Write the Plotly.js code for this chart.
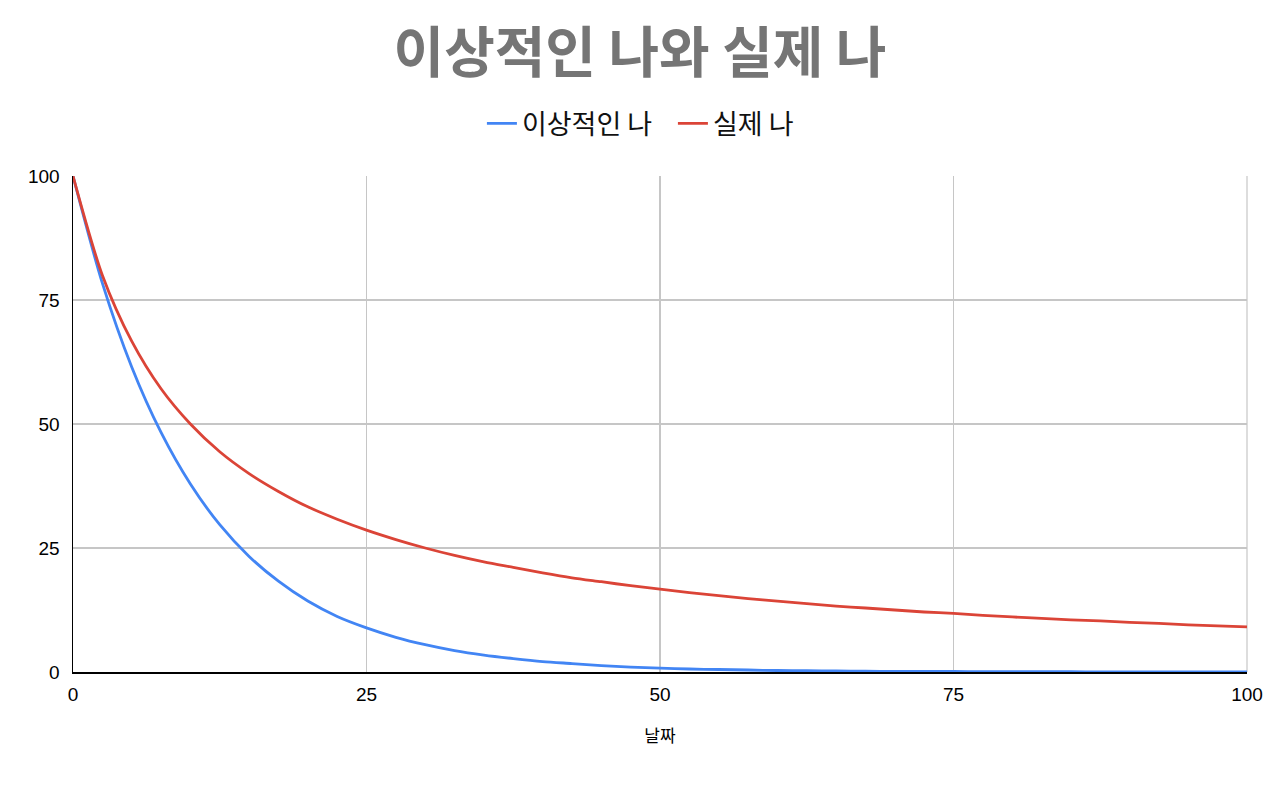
<!DOCTYPE html>
<html>
<head>
<meta charset="utf-8">
<script src="https://cdn.plot.ly/plotly-3.0.1.min.js"></script>
<style>
  html, body { margin: 0; padding: 0; background: #fff; }
  #chart { width: 1280px; height: 786px; }
</style>
</head>
<body>
<div id="chart"></div>
<script>
// days on the x axis
var days = [0, 2.5, 5, 7.5, 10, 12.5, 15, 17.5, 20, 22.5, 25, 27.5, 30, 32.5, 35, 37.5, 40,
    42.5, 45, 47.5, 50, 52.5, 55, 57.5, 60, 62.5, 65, 67.5, 70, 72.5, 75, 77.5, 80,
    82.5, 85, 87.5, 90, 92.5, 95, 97.5, 100];

// 이상적인 나
var idealMe = [100, 78.4, 61.5, 48.3, 37.9, 29.7, 23.3, 18.3, 14.3, 11.2, 8.9, 7.0, 5.5, 4.3, 3.4,
    2.7, 2.1, 1.7, 1.3, 1.0, 0.8, 0.6, 0.5, 0.4, 0.3, 0.25, 0.2, 0.15, 0.1, 0.1, 0.1,
    0.05, 0.05, 0.05, 0.05, 0, 0, 0, 0, 0, 0];

// 실제 나
var realMe = [100, 80, 66.7, 57.1, 50, 44.4, 40, 36.4, 33.3, 30.8, 28.6, 26.7, 25, 23.5, 22.2,
    21.1, 20, 19.0, 18.2, 17.4, 16.7, 16.0, 15.4, 14.8, 14.3, 13.8, 13.3, 12.9, 12.5,
    12.1, 11.8, 11.4, 11.1, 10.8, 10.5, 10.3, 10.0, 9.8, 9.5, 9.3, 9.1];

var xTicks = [0, 25, 50, 75, 100];
var yTicks = [0, 25, 50, 75, 100];

var ideal = {
    x: days,
    y: idealMe,
    name: '이상적인 나',
    type: 'scatter',
    mode: 'lines',
    line: {color: '#4285F4', width: 2.8, shape: 'spline', smoothing: 0.8}
};
var real = {
    x: days,
    y: realMe,
    name: '실제 나',
    type: 'scatter',
    mode: 'lines',
    line: {color: '#DB4437', width: 2.8, shape: 'spline', smoothing: 0.8}
};

var tickFont = {family: 'Liberation Sans, Arial, sans-serif', size: 19, color: '#000'};

var layout = {
    width: 1280,
    height: 786,
    paper_bgcolor: '#fff',
    plot_bgcolor: '#fff',
    margin: {l: 73, r: 33, t: 176, b: 114},
    title: {
        text: '이상적인 나와 실제 나',
        font: {family: 'Noto Sans CJK KR', size: 55, weight: 'bold', color: '#757575'},
        x: 0.5,
        xanchor: 'center',
        y: 0.933,
        yanchor: 'middle',
        yref: 'container'
    },
    showlegend: true,
    legend: {
        orientation: 'h',
        x: 0.511,
        xanchor: 'center',
        y: 1.105,
        yanchor: 'middle',
        font: {family: 'Noto Sans CJK KR', size: 27, color: '#111'},
        itemwidth: 30,
        entrywidth: 146,
        entrywidthmode: 'pixels'
    },
    xaxis: {
        range: [0, 100],
        tickvals: xTicks,
        ticktext: xTicks.map(String),
        ticks: '',
        tickfont: tickFont,
        ticklabelstandoff: 5,
        showgrid: true,
        gridcolor: '#c6c6c6',
        gridwidth: 1.2,
        zeroline: false,
        showline: true,
        linecolor: '#000',
        linewidth: 1.5,
        mirror: false,
        fixedrange: true,
        title: {
            text: '날짜',
            font: {family: 'Noto Sans CJK KR', size: 17, color: '#000'},
            standoff: 26
        }
    },
    yaxis: {
        range: [0, 100],
        tickvals: yTicks,
        ticktext: yTicks.map(String),
        ticks: '',
        tickfont: tickFont,
        ticklabelstandoff: 8,
        showgrid: true,
        gridcolor: '#c6c6c6',
        gridwidth: 1.2,
        zeroline: false,
        showline: true,
        linecolor: '#000',
        linewidth: 1.5,
        fixedrange: true
    },
    shapes: [
        {type: 'line', xref: 'paper', yref: 'paper', x0: 1, x1: 1, y0: 0, y1: 1,
         line: {color: '#c6c6c6', width: 1.2}, layer: 'below'}
    ]
};

Plotly.newPlot('chart', [ideal, real], layout, {displayModeBar: false, staticPlot: true});
</script>
</body>
</html>
